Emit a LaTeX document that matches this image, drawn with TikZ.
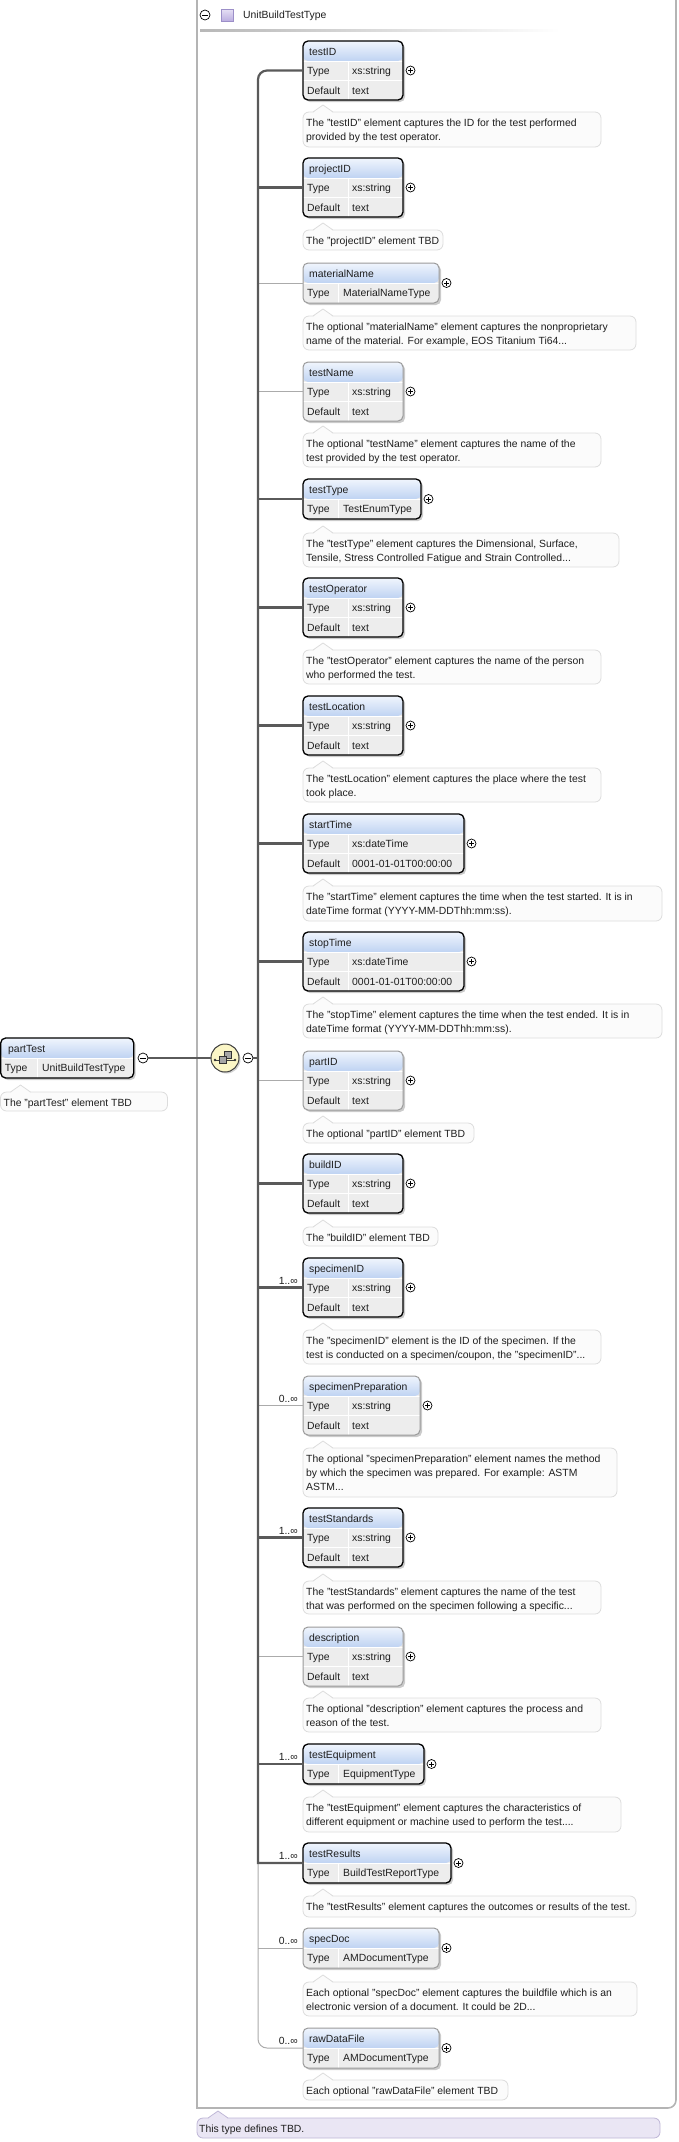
\documentclass[tikz,border=0pt]{standalone}
\usepackage{fontspec}
\setmainfont{Liberation Sans}
\usetikzlibrary{shadows}
\definecolor{hdrtop}{HTML}{F0F5FD}
\definecolor{hdrbot}{HTML}{BFD3F2}
\definecolor{rowgray}{HTML}{EDEDED}
\definecolor{optgray}{HTML}{9A9A9A}
\definecolor{busgray}{HTML}{5A5A5A}
\definecolor{thingray}{HTML}{ABABAB}
\definecolor{cmtfill}{HTML}{FBFBFB}
\definecolor{cmtdraw}{HTML}{DCDCDC}
\definecolor{contgray}{HTML}{B4B4B4}
\definecolor{lavfill}{HTML}{EAE6F4}
\definecolor{lavdraw}{HTML}{BEB6D6}
\definecolor{seqfill}{HTML}{FBF6C6}
\definecolor{txt}{HTML}{1E1E1E}
\definecolor{purtop}{HTML}{E6E0F5}
\definecolor{purbot}{HTML}{BBAEE0}
\definecolor{purdraw}{HTML}{9C8FC8}

\newcommand{\ElemThree}[7]{%
  \node[#7, eshapethree, minimum width=#3pt, anchor=north west] (#1) at (303,#2) {};
  \node[etext] (#1-n) at (309,#2+14) {#4};
  \node[etext] (#1-tl) at (307,#2+33.5) {Type};
  \node[etext] (#1-tv) at (352,#2+33.5) {#5};
  \node[etext] (#1-dl) at (307,#2+53) {Default};
  \node[etext] (#1-dv) at (352,#2+53) {#6};
  \node[plusc] (#1-p) at ([xshift=7.5pt]#1.east) {};
}
\newcommand{\ElemTwo}[6]{%
  \node[#6, eshapetwo, minimum width=#3pt, anchor=north west] (#1) at (303,#2) {};
  \node[etext] (#1-n) at (309,#2+14) {#4};
  \node[etext] (#1-tl) at (307,#2+33.7) {Type};
  \node[etext] (#1-tv) at (343,#2+33.7) {#5};
  \node[plusc] (#1-p) at ([xshift=7.5pt]#1.east) {};
}
\newcommand{\Cmt}[6]{%
  \node[cmtbox, minimum width=#4pt, minimum height=#5pt, anchor=north west] (#1-c) at (#2,#3) {};
  \fill[cmtfill] ([xshift=10pt,yshift=-1pt]#1-c.north west) -- ([xshift=20pt,yshift=7pt]#1-c.north west) -- ([xshift=30pt,yshift=-1pt]#1-c.north west) -- cycle;
  \draw[cmtdraw, line width=0.8pt] ([xshift=10pt]#1-c.north west) -- ([xshift=20pt,yshift=7pt]#1-c.north west) -- ([xshift=30pt]#1-c.north west);
  \node[ctext] (#1-ct) at (#2+3,#3+7) {#6};
}

\begin{document}
\begin{tikzpicture}[x=1pt,y=-1pt,
  font=\fontsize{10.4}{14}\selectfont,
  etext/.style={anchor=base west, inner sep=0pt, text=txt},
  ctext/.style={anchor=north west, inner sep=0pt, align=left, text=txt},
  mult/.style={anchor=base east, inner sep=0pt, text=txt},
  reqbox/.style={draw=black, line width=1.3pt},
  optbox/.style={draw=optgray, line width=1pt},
  eshape/.style={rectangle, rounded corners=5pt, inner sep=0pt, outer sep=0pt,
    drop shadow={shadow xshift=2pt, shadow yshift=-2pt, opacity=0.45, fill=black!45}},
  eshapethree/.style={eshape, minimum height=59pt, path picture={
    \fill[rowgray] (path picture bounding box.north west) rectangle (path picture bounding box.south east);
    \shade[top color=hdrtop, bottom color=hdrbot] (path picture bounding box.north west) rectangle ([yshift=-20pt]path picture bounding box.north east);
    \draw[white, line width=1pt] ([yshift=-20pt]path picture bounding box.north west) -- ([yshift=-20pt]path picture bounding box.north east);
    \draw[white, line width=1pt] ([yshift=-39.5pt]path picture bounding box.north west) -- ([yshift=-39.5pt]path picture bounding box.north east);
    \draw[white, line width=1pt] ([xshift=45pt,yshift=-20pt]path picture bounding box.north west) -- ([xshift=45pt]path picture bounding box.south west);
  }},
  eshapetwo/.style={eshape, minimum height=40pt, path picture={
    \fill[rowgray] (path picture bounding box.north west) rectangle (path picture bounding box.south east);
    \shade[top color=hdrtop, bottom color=hdrbot] (path picture bounding box.north west) rectangle ([yshift=-20pt]path picture bounding box.north east);
    \draw[white, line width=1pt] ([yshift=-20pt]path picture bounding box.north west) -- ([yshift=-20pt]path picture bounding box.north east);
    \draw[white, line width=1pt] ([xshift=#1pt,yshift=-20pt]path picture bounding box.north west) -- ([xshift=#1pt]path picture bounding box.south west);
  }},
  eshapetwo/.default=35,
  cmtbox/.style={rectangle, rounded corners=6pt, inner sep=0pt, outer sep=0pt, fill=cmtfill, draw=cmtdraw, line width=0.8pt},
  plusc/.style={circle, draw=black, line width=0.7pt, fill=white, minimum size=9pt, inner sep=0pt, path picture={
    \draw[line width=0.7pt] ([xshift=-2.5pt]path picture bounding box.center) -- ([xshift=2.5pt]path picture bounding box.center);
    \draw[line width=0.7pt] ([yshift=-2.5pt]path picture bounding box.center) -- ([yshift=2.5pt]path picture bounding box.center);
  }},
  minusc/.style={circle, draw=black, line width=0.7pt, fill=white, minimum size=10pt, inner sep=0pt, path picture={
    \draw[line width=0.8pt] ([xshift=-2.8pt]path picture bounding box.center) -- ([xshift=2.8pt]path picture bounding box.center);
  }},
  seqc/.style={circle, draw=black!75, line width=1pt, fill=seqfill, minimum size=28pt, inner sep=0pt,
    drop shadow={shadow xshift=1.5pt, shadow yshift=-1.5pt, opacity=0.4, fill=black!45}},
  thickline/.style={busgray, line width=2.2pt},
  thinline/.style={thingray, line width=1pt},
  contline/.style={contgray, line width=1.6pt}
]
\useasboundingbox (0,0) rectangle (678,2142);

% container
\draw[contline] (197,-2) -- (197,2108) [rounded corners=8pt] -- (676,2108) -- (676,-2);

% header
\node[minusc] (hm) at (205,15) {};
\node[rectangle, minimum size=12pt, inner sep=0pt, draw=purdraw, line width=0.6pt, top color=purtop, bottom color=purbot] (hsq) at (227,15) {};
\node[etext] (htitle) at (243,18.7) {UnitBuildTestType};
\shade[left color=black!28, right color=white] (200,29) rectangle (560,31);

% elements
\ElemThree{testID}{41}{100}{testID}{xs:string}{text}{reqbox}
\Cmt{testID}{303}{112}{298}{35}{The "testID" element captures the ID for the test performed\\provided by the test operator.}
\ElemThree{projectID}{158}{100}{projectID}{xs:string}{text}{reqbox}
\Cmt{projectID}{303}{230}{140}{20}{The "projectID" element TBD}
\ElemTwo{materialName}{263}{136}{materialName}{MaterialNameType}{optbox}
\Cmt{materialName}{303}{316}{333}{34}{The optional "materialName" element captures the nonproprietary\\name of the material. For example, EOS Titanium Ti64...}
\ElemThree{testName}{362}{100}{testName}{xs:string}{text}{optbox}
\Cmt{testName}{303}{433}{298}{34}{The optional "testName" element captures the name of the\\test provided by the test operator.}
\ElemTwo{testType}{479}{118}{testType}{TestEnumType}{reqbox}
\Cmt{testType}{303}{533}{316}{34}{The "testType" element captures the Dimensional, Surface,\\Tensile, Stress Controlled Fatigue and Strain Controlled...}
\ElemThree{testOperator}{578}{100}{testOperator}{xs:string}{text}{reqbox}
\Cmt{testOperator}{303}{650}{298}{34}{The "testOperator" element captures the name of the person\\who performed the test.}
\ElemThree{testLocation}{696}{100}{testLocation}{xs:string}{text}{reqbox}
\Cmt{testLocation}{303}{768}{298}{34}{The "testLocation" element captures the place where the test\\took place.}
\ElemThree{startTime}{814}{161}{startTime}{xs:dateTime}{0001-01-01T00:00:00}{reqbox}
\Cmt{startTime}{303}{886}{359}{35}{The "startTime" element captures the time when the test started. It is in\\dateTime format (YYYY-MM-DDThh:mm:ss).}
\ElemThree{stopTime}{932}{161}{stopTime}{xs:dateTime}{0001-01-01T00:00:00}{reqbox}
\Cmt{stopTime}{303}{1004}{359}{34}{The "stopTime" element captures the time when the test ended. It is in\\dateTime format (YYYY-MM-DDThh:mm:ss).}
\ElemThree{partID}{1051}{100}{partID}{xs:string}{text}{optbox}
\Cmt{partID}{303}{1123}{171}{20}{The optional "partID" element TBD}
\ElemThree{buildID}{1154}{100}{buildID}{xs:string}{text}{reqbox}
\Cmt{buildID}{303}{1227}{135}{19}{The "buildID" element TBD}
\ElemThree{specimenID}{1258}{100}{specimenID}{xs:string}{text}{reqbox}
\Cmt{specimenID}{303}{1330}{298}{34}{The "specimenID" element is the ID of the specimen. If the\\test is conducted on a specimen/coupon, the "specimenID"...}
\ElemThree{specimenPreparation}{1376}{117}{specimenPreparation}{xs:string}{text}{optbox}
\Cmt{specimenPreparation}{303}{1448}{314}{49}{The optional "specimenPreparation" element names the method\\by which the specimen was prepared. For example: ASTM\\ASTM...}
\ElemThree{testStandards}{1508}{100}{testStandards}{xs:string}{text}{reqbox}
\Cmt{testStandards}{303}{1581}{298}{33}{The "testStandards" element captures the name of the test\\that was performed on the specimen following a specific...}
\ElemThree{description}{1627}{100}{description}{xs:string}{text}{optbox}
\Cmt{description}{303}{1698}{298}{34}{The optional "description" element captures the process and\\reason of the test.}
\ElemTwo{testEquipment}{1744}{121}{testEquipment}{EquipmentType}{reqbox}
\Cmt{testEquipment}{303}{1797}{318}{35}{The "testEquipment" element captures the characteristics of\\different equipment or machine used to perform the test....}
\ElemTwo{testResults}{1843}{148}{testResults}{BuildTestReportType}{reqbox}
\Cmt{testResults}{303}{1896}{333}{21}{The "testResults" element captures the outcomes or results of the test.}
\ElemTwo{specDoc}{1928}{136}{specDoc}{AMDocumentType}{optbox}
\Cmt{specDoc}{303}{1982}{334}{34}{Each optional "specDoc" element captures the buildfile which is an\\electronic version of a document. It could be 2D...}
\ElemTwo{rawDataFile}{2028}{136}{rawDataFile}{AMDocumentType}{optbox}
\Cmt{rawDataFile}{303}{2080}{205}{20}{Each optional "rawDataFile" element TBD}

% multiplicities
\node[mult] (specimenID-m) at ([xshift=-5pt,yshift=3.5pt]specimenID.west) {1..∞};
\node[mult] (specimenPreparation-m) at ([xshift=-5pt,yshift=3.5pt]specimenPreparation.west) {0..∞};
\node[mult] (testStandards-m) at ([xshift=-5pt,yshift=3.5pt]testStandards.west) {1..∞};
\node[mult] (testEquipment-m) at ([xshift=-5pt,yshift=3.5pt]testEquipment.west) {1..∞};
\node[mult] (testResults-m) at ([xshift=-5pt,yshift=3.5pt]testResults.west) {1..∞};
\node[mult] (specDoc-m) at ([xshift=-5pt,yshift=3.5pt]specDoc.west) {0..∞};
\node[mult] (rawDataFile-m) at ([xshift=-5pt,yshift=3.5pt]rawDataFile.west) {0..∞};

% partTest
\node[reqbox, eshapetwo=37, minimum width=133pt, anchor=north west] (partTest) at (0.7,1038) {};
\node[etext] (partTest-n) at (8,1052) {partTest};
\node[etext] (partTest-tl) at (4.7,1071.7) {Type};
\node[etext] (partTest-tv) at (42,1071.7) {UnitBuildTestType};
\node[minusc] (partTest-m) at (143,1058) {};
\Cmt{partTest}{0.5}{1092}{167}{19}{The "partTest" element TBD}

% sequence compositor
\node[seqc] (seq) at (225,1058) {};
\draw[black!75, line width=0.8pt] ([shift={(-10,2)}]seq.center) -- ([shift={(10,2)}]seq.center);
\fill[black!80] ([shift={(-10,2)}]seq.center) circle (1.3pt);
\fill[black!80] ([shift={(10,2)}]seq.center) circle (1.3pt);
\filldraw[fill=black!35, draw=black!80, line width=0.6pt] ([shift={(-1,-7)}]seq.center) rectangle ([shift={(6,0)}]seq.center);
\filldraw[fill=black!35, draw=black!80, line width=0.6pt] ([shift={(-6,-2)}]seq.center) rectangle ([shift={(1,5)}]seq.center);
\node[minusc] (seq-m) at (248,1058) {};

% connectors
\coordinate (busx) at (258,0);
\coordinate (busend) at (258,1863);
\draw[thickline] (partTest-m) -- (seq);
\draw[thickline] (seq-m) -- (busx |- seq-m);
\foreach \e in {materialName,testName,partID,specimenPreparation,description,specDoc}
  \draw[thinline] (busx |- \e.west) -- (\e.west);
\draw[thinline, rounded corners=9pt] (busend) |- (rawDataFile.west);
\foreach \e in {projectID,testType,testOperator,testLocation,startTime,stopTime,buildID,specimenID,testStandards,testEquipment}
  \draw[thickline] (busx |- \e.west) -- (\e.west);
\draw[thickline] (testID.west) [rounded corners=9pt] -| (busx |- seq) [sharp corners] -- (busend) -- (testResults.west);

% type comment
\node[cmtbox, fill=lavfill, draw=lavdraw, minimum width=463pt, minimum height=20pt, anchor=north west] (typedef-c) at (197,2118) {};
\fill[lavfill] ([xshift=11pt,yshift=-1pt]typedef-c.north west) -- ([xshift=21pt,yshift=7pt]typedef-c.north west) -- ([xshift=31pt,yshift=-1pt]typedef-c.north west) -- cycle;
\draw[lavdraw, line width=0.8pt] ([xshift=11pt]typedef-c.north west) -- ([xshift=21pt,yshift=7pt]typedef-c.north west) -- ([xshift=31pt]typedef-c.north west);
\node[ctext] (typedef-ct) at (199,2125) {This type defines TBD.};
\end{tikzpicture}
\end{document}
